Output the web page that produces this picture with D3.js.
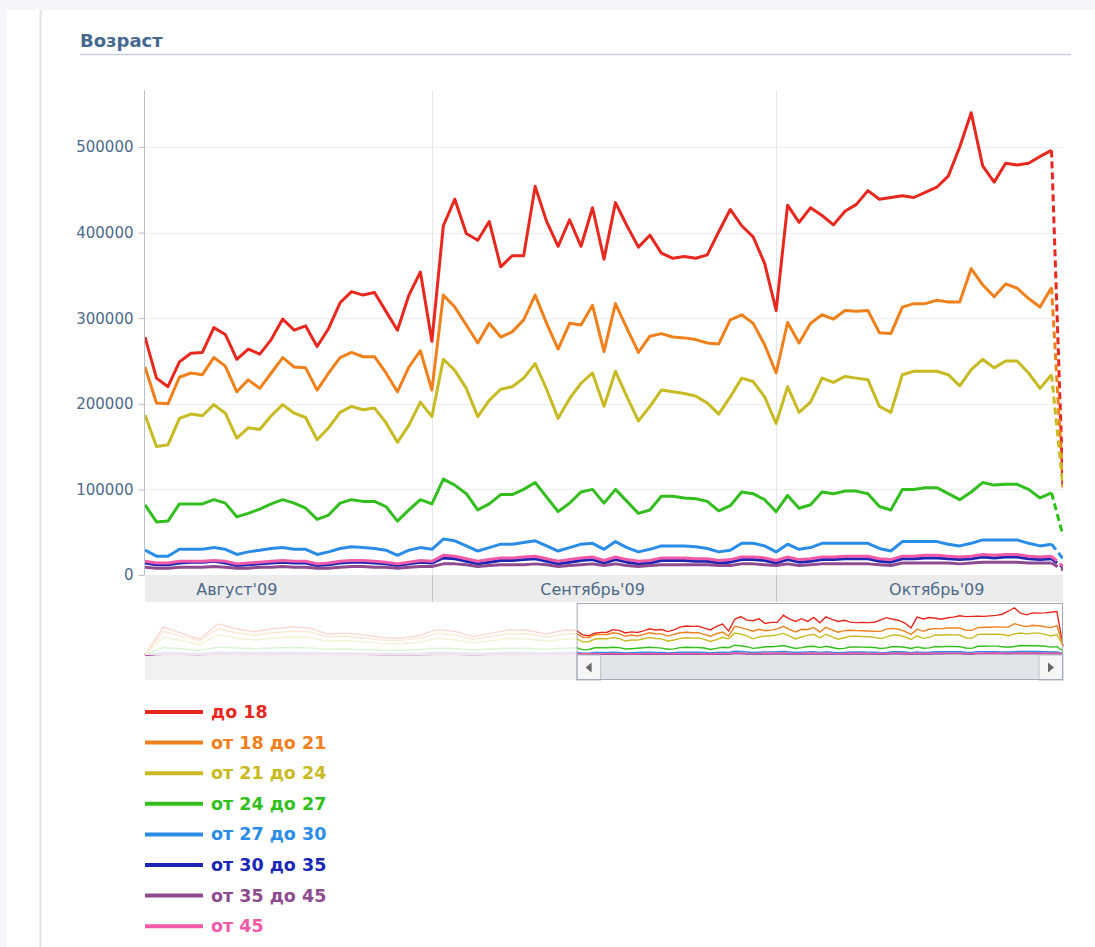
<!DOCTYPE html>
<html>
<head>
<meta charset="utf-8">
<script src="https://cdn.jsdelivr.net/npm/d3@7"></script>
<style>
    body { margin: 0; background: #f4f6f9; }
    svg { display: block; font-family: "DejaVu Sans", Verdana, sans-serif; }
</style>
</head>
<body>
<svg id="chart" width="1095" height="947"></svg>
<script>
// values are in thousands of users, one per day from 7 Aug 2009 to 26 Oct 2009
const seriesNames = ["до 18", "от 18 до 21", "от 21 до 24", "от 24 до 27",
                     "от 27 до 30", "от 30 до 35", "от 35 до 45", "от 45"];
const seriesColors = ["#e8281e", "#f0801c", "#c8ba22", "#32bf1e",
                      "#2b8ce8", "#1b27b4", "#8e4b8f", "#f25aa8"];

const age0_18 = [278,230,220,249,259,260,289,281,252,264,258,275,299,286,291,267,288,318,331,327,330,308,286,327,354,
                 273,408,439,399,391,413,360,373,373,454,413,384,415,384,429,369,435,408,383,397,376,370,372,370,374,401,427,408,395,364,
                 309,432,412,429,420,409,425,433,449,439,441,443,441,447,453,466,500,540,478,459,481,479,481,489,496,100];
const age18_21 = [243,201,200,231,236,234,254,244,214,228,218,236,254,243,242,216,236,254,260,255,255,236,214,243,262,
                  216,327,313,292,271,294,278,284,298,327,294,264,294,292,315,261,317,288,260,279,282,278,277,275,271,270,298,304,294,269,
                  236,295,271,294,304,299,309,308,309,283,282,313,317,317,321,319,319,358,339,325,340,335,323,313,336,105];
const age21_24 = [187,150,152,183,188,186,199,189,160,172,170,186,199,189,184,158,172,190,197,193,195,178,155,175,202,
                  185,252,239,218,185,204,217,220,230,247,217,183,206,224,236,197,238,208,180,197,216,214,212,209,201,188,208,230,226,208,
                  177,220,190,202,230,225,232,230,228,197,190,234,238,238,238,234,221,240,252,242,250,250,236,218,234,103];
const age24_27 = [82,62,63,83,83,83,88,84,68,72,77,83,88,84,78,65,70,84,88,86,86,80,63,76,88,
                  83,112,105,95,76,83,94,94,100,108,91,74,84,97,100,84,100,86,72,76,92,92,90,89,86,75,81,97,95,88,
                  74,93,78,82,97,95,98,98,95,80,76,100,100,102,102,95,88,97,108,105,106,106,100,90,96,46];
const age27_30 = [29,22,22,30,30,30,32,30,24,27,29,31,32,30,30,24,27,31,33,32,31,29,23,29,32,
                  30,42,40,34,28,32,36,36,38,40,34,28,32,36,37,30,39,32,27,30,34,34,34,33,31,27,29,37,37,34,
                  27,36,30,32,37,37,37,37,37,31,28,39,39,39,39,36,34,37,41,41,41,41,37,34,36,19];
const age30_35 = [14,12,12,14,15,15,16,14,11,12,13,14,15,14,14,11,12,14,15,15,14,13,11,13,15,
                  14,20,19,16,13,15,17,17,18,19,16,13,15,17,18,14,18,15,13,14,17,17,17,16,16,14,15,18,18,17,
                  14,18,15,16,18,18,19,19,19,16,15,19,19,20,20,19,18,19,21,20,21,21,19,18,19,9];
const age35_45 = [9,8,8,9,9,9,10,9,8,8,9,9,10,9,9,8,8,9,10,10,9,9,8,9,10,
                  10,13,13,12,10,11,12,12,12,13,12,10,11,12,13,11,13,11,10,11,12,12,12,12,12,11,11,13,13,12,
                  11,13,11,12,13,13,13,13,13,12,11,14,14,14,14,14,13,14,15,15,15,15,14,14,14,6];
const age45 = [16,14,14,16,16,16,17,16,13,14,15,16,17,16,16,13,14,16,17,17,16,15,13,15,17,
               16,23,22,19,16,18,20,20,21,22,19,16,18,20,21,17,21,18,16,17,20,20,20,19,19,17,18,21,21,20,
               17,21,18,19,21,21,22,22,22,19,18,22,22,23,23,22,21,22,24,23,24,24,22,21,22,10];

// earlier history, shown only in the navigator (every 3 days from 28 May 2009)
const early0_18  = [0,320,250,180,355,300,265,300,320,310,240,250,230,200,190,220,290,270,210,250,290,280,240,285];
const early18_21 = [0,270,215,160,300,255,225,255,270,265,205,215,195,170,165,190,245,230,180,215,245,240,205,240];
const early21_24 = [0,205,165,120,230,195,172,195,205,200,158,165,150,130,125,145,190,175,138,165,188,183,158,183];
const early24_27 = [0,85,68,50,92,80,72,80,85,82,65,68,62,54,52,60,78,72,57,68,78,75,65,76];
const early27_30 = [0,30,24,18,33,29,26,29,30,29,23,24,22,19,18,21,28,26,20,24,28,27,23,27];
const early30_35 = [0,15,12,9,16,14,13,14,15,14,11,12,11,9,9,10,14,13,10,12,14,13,11,13];
const early35_45 = [0,9,7,5,10,9,8,9,9,9,7,7,7,6,6,6,8,8,6,7,8,8,7,8];
const early45    = [0,16,13,10,17,15,14,15,16,15,12,13,12,10,10,11,15,14,11,13,15,14,12,14];

const yTicks = [0, 100, 200, 300, 400, 500];
const monthLabels = ["Август'09", "Сентябрь'09", "Октябрь'09"];

const allSeries = [age0_18, age18_21, age21_24, age24_27, age27_30, age30_35, age35_45, age45];
const allEarly = [early0_18, early18_21, early21_24, early24_27, early27_30, early30_35, early35_45, early45];

const days = d3.timeDay.range(new Date(2009, 7, 7), new Date(2009, 9, 27));
const earlyDays = d3.timeDay.range(new Date(2009, 4, 28), new Date(2009, 7, 7), 3);

const svg = d3.select("#chart");
const textColor = "#4d6a8a";

// page panel
svg.append("rect").attr("x", 7).attr("y", 10).attr("width", 1088).attr("height", 937).attr("fill", "#fff");
svg.append("line").attr("x1", 40.5).attr("x2", 40.5).attr("y1", 10).attr("y2", 947)
    .attr("stroke", "#dde2e9").attr("stroke-width", 2);

// title
svg.append("text").attr("x", 80).attr("y", 47).text("Возраст")
    .attr("font-size", 18).attr("font-weight", "bold").attr("fill", "#45688e");
svg.append("line").attr("x1", 80).attr("x2", 1071).attr("y1", 54.5).attr("y2", 54.5)
    .attr("stroke", "#c6cfda").attr("stroke-width", 1.5);

// scales
const plotLeft = 145, plotRight = 1063, plotTop = 90, plotBottom = 575;
const x = d3.scaleTime().domain([days[0], days[days.length - 1]]).range([plotLeft, plotRight]);
const y = d3.scaleLinear().domain([0, 500]).range([plotBottom, 147]);
const monthStarts = d3.timeMonth.range(days[0], days[days.length - 1]);

// grid
svg.append("g").selectAll("line").data(yTicks.slice(1)).join("line")
    .attr("x1", plotLeft).attr("x2", plotRight)
    .attr("y1", d => Math.round(y(d)) + 0.5).attr("y2", d => Math.round(y(d)) + 0.5)
    .attr("stroke", "#eaedf1");
svg.append("g").selectAll("line").data(monthStarts).join("line")
    .attr("x1", d => Math.round(x(d)) + 0.5).attr("x2", d => Math.round(x(d)) + 0.5)
    .attr("y1", plotTop).attr("y2", plotBottom)
    .attr("stroke", "#e4e8ec");

// y axis
const yAxis = svg.append("g").attr("transform", `translate(${plotLeft - 0.5},0)`)
    .call(d3.axisLeft(y).tickValues(yTicks).tickSize(6).tickPadding(5).tickFormat(d => d * 1000));
yAxis.select(".domain").remove();
yAxis.selectAll("line").attr("stroke", "#b7c0cb");
yAxis.selectAll("text").attr("fill", textColor).attr("font-size", 15)
    .attr("font-family", "DejaVu Sans, sans-serif");
svg.append("line").attr("x1", plotLeft - 0.5).attr("x2", plotLeft - 0.5).attr("y1", plotTop).attr("y2", plotBottom)
    .attr("stroke", "#b7c0cb");

// x axis band
svg.append("rect").attr("x", plotLeft).attr("y", plotBottom).attr("width", plotRight - plotLeft).attr("height", 27)
    .attr("fill", "#ececec");
svg.append("g").selectAll("line").data(monthStarts).join("line")
    .attr("x1", d => Math.round(x(d)) + 0.5).attr("x2", d => Math.round(x(d)) + 0.5)
    .attr("y1", plotBottom).attr("y2", plotBottom + 27)
    .attr("stroke", "#c4c4c4");
const labelDays = [new Date(2009, 7, 15), new Date(2009, 8, 15), new Date(2009, 9, 15)];
svg.append("g").selectAll("text").data(monthLabels).join("text")
    .attr("x", (d, i) => x(labelDays[i])).attr("y", plotBottom + 20)
    .attr("text-anchor", "middle").attr("font-size", 16).attr("fill", textColor)
    .text(d => d);

// series
svg.append("clipPath").attr("id", "plotClip").append("rect")
    .attr("x", plotLeft).attr("y", plotTop - 2).attr("width", plotRight - plotLeft).attr("height", plotBottom - plotTop + 2);

const line = d3.line().x(d => x(d[0])).y(d => y(d[1]));
const plot = svg.append("g").attr("clip-path", "url(#plotClip)");
const last = days.length - 1;

allSeries.forEach(function (values, i) {
    const pts = values.map((v, j) => [days[j], v]);
    plot.append("path").datum(pts.slice(0, last))
        .attr("fill", "none").attr("stroke", seriesColors[i]).attr("stroke-width", 3)
        .attr("stroke-linejoin", "round").attr("d", line);
    plot.append("path").datum(pts.slice(last - 1))
        .attr("fill", "none").attr("stroke", seriesColors[i]).attr("stroke-width", 3)
        .attr("stroke-dasharray", "7,4").attr("d", line);
});

// navigator
const navTop = 603, navMid = 655, navBottom = 680;
const navX = d3.scaleTime().domain([earlyDays[0], days[last]]).range([plotLeft, plotRight]);
const navY = d3.scaleLinear().domain([0, 560]).range([navMid, navTop + 3]);
const navLine = d3.line().x(d => navX(d[0])).y(d => navY(d[1]));

svg.append("rect").attr("x", plotLeft).attr("y", navMid).attr("width", plotRight - plotLeft).attr("height", navBottom - navMid)
    .attr("fill", "#f1f1f1");

allSeries.forEach(function (values, i) {
    const pts = allEarly[i].map((v, j) => [earlyDays[j], v])
        .concat(values.map((v, j) => [days[j], v]));
    svg.append("path").datum(pts)
        .attr("fill", "none").attr("stroke", seriesColors[i]).attr("stroke-width", 1.4)
        .attr("d", navLine);
});

const winX = navX(days[0]);
svg.append("rect").attr("x", plotLeft).attr("y", navTop).attr("width", winX - plotLeft).attr("height", navMid - navTop)
    .attr("fill", "#fff").attr("opacity", 0.82);

// window and scrollbar
svg.append("rect").attr("x", winX).attr("y", navMid).attr("width", plotRight - winX).attr("height", navBottom - navMid)
    .attr("fill", "#e1e4e8");
svg.append("rect").attr("x", winX).attr("y", navMid).attr("width", 24).attr("height", navBottom - navMid)
    .attr("fill", "#f6f6f6").attr("stroke", "#b9c0c8");
svg.append("rect").attr("x", plotRight - 24).attr("y", navMid).attr("width", 24).attr("height", navBottom - navMid)
    .attr("fill", "#f6f6f6").attr("stroke", "#b9c0c8");
svg.append("path").attr("d", `M${winX + 9},${navMid + 12.5}l6,-5v10z`).attr("fill", "#666");
svg.append("path").attr("d", `M${plotRight - 9},${navMid + 12.5}l-6,-5v10z`).attr("fill", "#666");
svg.append("rect").attr("x", winX + 0.5).attr("y", navTop + 0.5).attr("width", plotRight - winX - 1).attr("height", navBottom - navTop - 1)
    .attr("fill", "none").attr("stroke", "#a3acb6");

// legend
const legend = svg.append("g").selectAll("g").data(seriesNames).join("g")
    .attr("transform", (d, i) => `translate(145,${712 + i * 30.6})`);
legend.append("line").attr("x1", 0).attr("x2", 58)
    .attr("stroke", (d, i) => seriesColors[i]).attr("stroke-width", 4);
legend.append("text").attr("x", 66).attr("y", 6)
    .attr("font-size", 17.5).attr("font-weight", "bold")
    .attr("fill", (d, i) => seriesColors[i])
    .text(d => d);
</script>
</body>
</html>
